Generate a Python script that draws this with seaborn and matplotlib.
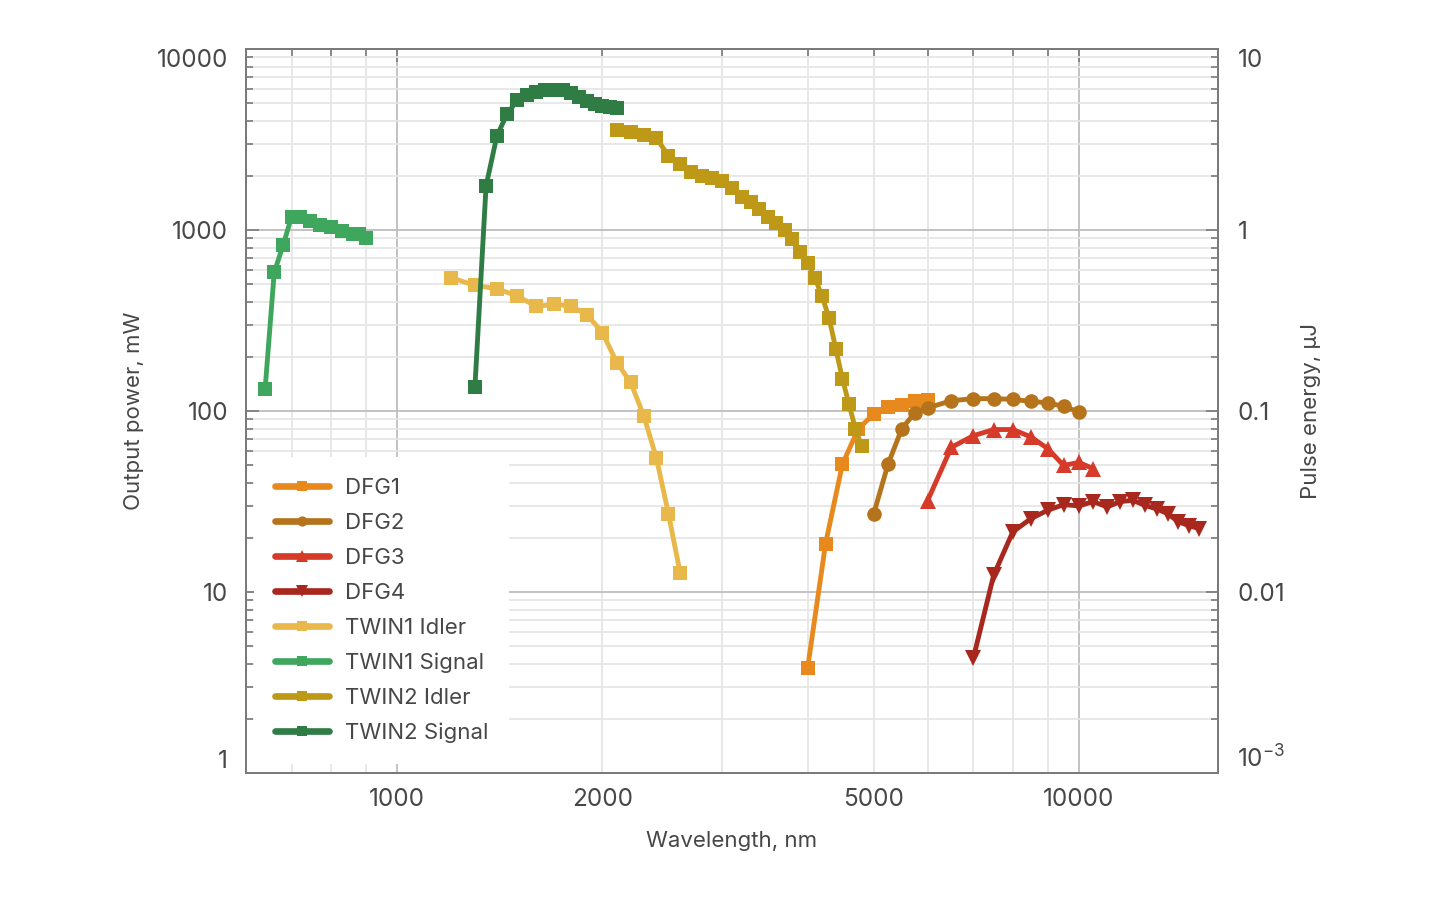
import matplotlib
matplotlib.use("Agg")
import numpy as np
import pandas as pd
import matplotlib.pyplot as plt
import seaborn as sns
from matplotlib.ticker import FixedLocator, FuncFormatter, LogLocator, NullFormatter

# ---- data (wavelength nm, output power mW) ----
dfg1_wl = [4000, 4250, 4500, 4750, 5000, 5250, 5500, 5750, 6000]
dfg1_pw = [3.8, 18.5, 51, 80, 96, 105, 108, 114, 115]

dfg2_wl = [5000, 5250, 5500, 5750, 6000, 6500, 7000, 7500, 8000, 8500, 9000, 9500, 10000]
dfg2_pw = [27, 51, 80, 98, 104, 114, 117, 117, 116, 113, 111, 106, 99]

dfg3_wl = [6000, 6500, 7000, 7500, 8000, 8500, 9000, 9500, 10000, 10500]
dfg3_pw = [32, 63, 73, 79, 79, 72, 62, 50, 52, 48]

dfg4_wl = [7000, 7500, 8000, 8500, 9000, 9500, 10000, 10500, 11000, 11500,
           12000, 12500, 13000, 13500, 14000, 14500, 15000]
dfg4_pw = [4.3, 12.4, 21.5, 25.4, 28.3, 30.4, 29.9, 31.6, 29.5, 31.6,
           32.1, 30.1, 28.8, 27.1, 24.4, 23.3, 22.4]

twin1_idler_wl = [1200, 1300, 1400, 1500, 1600, 1700, 1800, 1900, 2000,
                  2100, 2200, 2300, 2400, 2500, 2600]
twin1_idler_pw = [545, 494, 474, 432, 378, 389, 380, 339, 271,
                  185, 144, 94, 55, 27, 12.8]

twin1_signal_wl = [640, 660, 680, 700, 720, 745, 770, 800, 830, 860, 880, 900]
twin1_signal_pw = [132, 583, 822, 1187, 1187, 1122, 1072, 1033, 982, 956, 946, 898]

twin2_idler_wl = [2100, 2200, 2300, 2400, 2500, 2600, 2700, 2800, 2900, 3000,
                  3100, 3200, 3300, 3400, 3500, 3600, 3700, 3800, 3900, 4000,
                  4100, 4200, 4300, 4400, 4500, 4600, 4700, 4800]
twin2_idler_pw = [3550, 3460, 3360, 3220, 2570, 2315, 2080, 2000, 1940, 1860,
                  1710, 1525, 1420, 1300, 1180, 1095, 1005, 895, 755, 655,
                  545, 430, 328, 220, 150, 109, 80, 64]

twin2_signal_wl = [1300, 1350, 1400, 1450, 1500, 1550, 1600, 1650, 1700,
                   1750, 1800, 1850, 1900, 1950, 2000, 2050, 2100]
twin2_signal_pw = [135, 1750, 3300, 4400, 5200, 5600, 5800, 5950, 5950,
                   5900, 5750, 5450, 5150, 4950, 4850, 4800, 4750]

series = [
    ("DFG1", dfg1_wl, dfg1_pw, "#E8891E", "s", 10.5),
    ("DFG2", dfg2_wl, dfg2_pw, "#B5731C", "o", 10.5),
    ("DFG3", dfg3_wl, dfg3_pw, "#D63B2A", "^", 11.5),
    ("DFG4", dfg4_wl, dfg4_pw, "#A8281E", "v", 11.5),
    ("TWIN1 Idler", twin1_idler_wl, twin1_idler_pw, "#E8B84A", "s", 10.5),
    ("TWIN1 Signal", twin1_signal_wl, twin1_signal_pw, "#3FA65E", "s", 10.5),
    ("TWIN2 Idler", twin2_idler_wl, twin2_idler_pw, "#BE9817", "s", 10.5),
    ("TWIN2 Signal", twin2_signal_wl, twin2_signal_pw, "#2F7D45", "s", 10.5),
]

TEXT = "#474747"
SPINE = "#7a7a7a"

sns.set_theme(style="white")
plt.rcParams["font.family"] = ["Inter", "DejaVu Sans"]
plt.rcParams["mathtext.default"] = "regular"

fig = plt.figure(figsize=(14.4, 9), dpi=100)
ax = fig.add_axes([246 / 1440, 1 - 773 / 900, (1218 - 246) / 1440, (773 - 49) / 900])

for name, wl, pw, color, marker, ms in series:
    df = pd.DataFrame({"wl": wl, "pw": pw})
    sns.lineplot(data=df, x="wl", y="pw", ax=ax, color=color, marker=marker,
                 markersize=ms, markeredgewidth=0, linewidth=3.5,
                 sort=False, estimator=None, label=name,
                 solid_capstyle="round")

ax.set_xscale("log")
ax.set_yscale("log")
ax.set_xlim(600, 16000)
ax.set_ylim(1, 10000)

# x ticks: decades major, labels also on 2000 and 5000 (minor)
ax.xaxis.set_major_locator(FixedLocator([1000, 10000]))
ax.xaxis.set_major_formatter(FuncFormatter(lambda v, p: f"{v:.0f}"))
ax.xaxis.set_minor_locator(LogLocator(base=10, subs=np.arange(2, 10)))
ax.xaxis.set_minor_formatter(
    FuncFormatter(lambda v, p: f"{v:.0f}" if round(v) in (2000, 5000) else ""))

ax.set_yticks([1, 10, 100, 1000, 10000])
ax.set_yticklabels(["1", "10", "100", "1000", "10000"])
ax.yaxis.set_minor_locator(LogLocator(base=10, subs=np.arange(2, 10)))
ax.yaxis.set_minor_formatter(NullFormatter())

ax.set_axisbelow(True)
ax.grid(which="major", color="#bdbdbd", linewidth=1.3)
ax.grid(which="minor", color="#e6e6e6", linewidth=1.3)

ax.tick_params(which="both", direction="in", top=True, right=False,
               color=SPINE, labelcolor=TEXT, labelsize=17.5, width=1.2)
ax.tick_params(which="major", length=9)
ax.tick_params(which="minor", length=5)
ax.tick_params(axis="x", which="both", pad=11)
ax.tick_params(axis="y", which="both", pad=13)

ylabels = ax.get_yticklabels()
ylabels[0].set_va("bottom")
ylabels[-1].set_va("top")

for sp in ax.spines.values():
    sp.set_color(SPINE)
    sp.set_linewidth(1.3)

ax.set_xlabel("Wavelength, nm", fontsize=16, color=TEXT, labelpad=14)
ax.set_ylabel("Output power, mW", fontsize=16, color=TEXT, labelpad=9)

# right axis: pulse energy (1 kHz -> mW / 1000 = uJ)
ax2 = ax.twinx()
ax2.set_yscale("log")
ax2.set_ylim(1e-3, 10)
ax2.set_yticks([1e-3, 1e-2, 1e-1, 1, 10])
ax2.set_yticklabels(["10$^{-3}$", "0.01", "0.1", "1", "10"])
ax2.yaxis.set_minor_locator(LogLocator(base=10, subs=np.arange(2, 10)))
ax2.yaxis.set_minor_formatter(NullFormatter())
ax2.grid(False)
ax2.tick_params(which="both", direction="in", color=SPINE, labelcolor=TEXT,
                labelsize=17.5, width=1.2, pad=14)
ax2.tick_params(which="major", length=9)
ax2.tick_params(which="minor", length=5)
r_labels = ax2.get_yticklabels()
r_labels[0].set_va("bottom")
r_labels[-1].set_va("top")
for sp in ax2.spines.values():
    sp.set_color(SPINE)
    sp.set_linewidth(1.3)
ax2.set_ylabel("Pulse energy, µJ", fontsize=16, color=TEXT, labelpad=11)

leg = ax.legend(loc="lower left", bbox_to_anchor=(0.008, 0.012), frameon=True,
                facecolor="white", edgecolor="none", framealpha=1,
                fancybox=False, fontsize=16, handlelength=2.45,
                handletextpad=0.7, labelspacing=0.67, borderpad=0.95,
                markerscale=0.7, borderaxespad=0)
for t in leg.get_texts():
    t.set_color(TEXT)
for h in leg.get_lines():
    h.set_linewidth(4.8)

fig.savefig("out.png", dpi=100, facecolor="white")
